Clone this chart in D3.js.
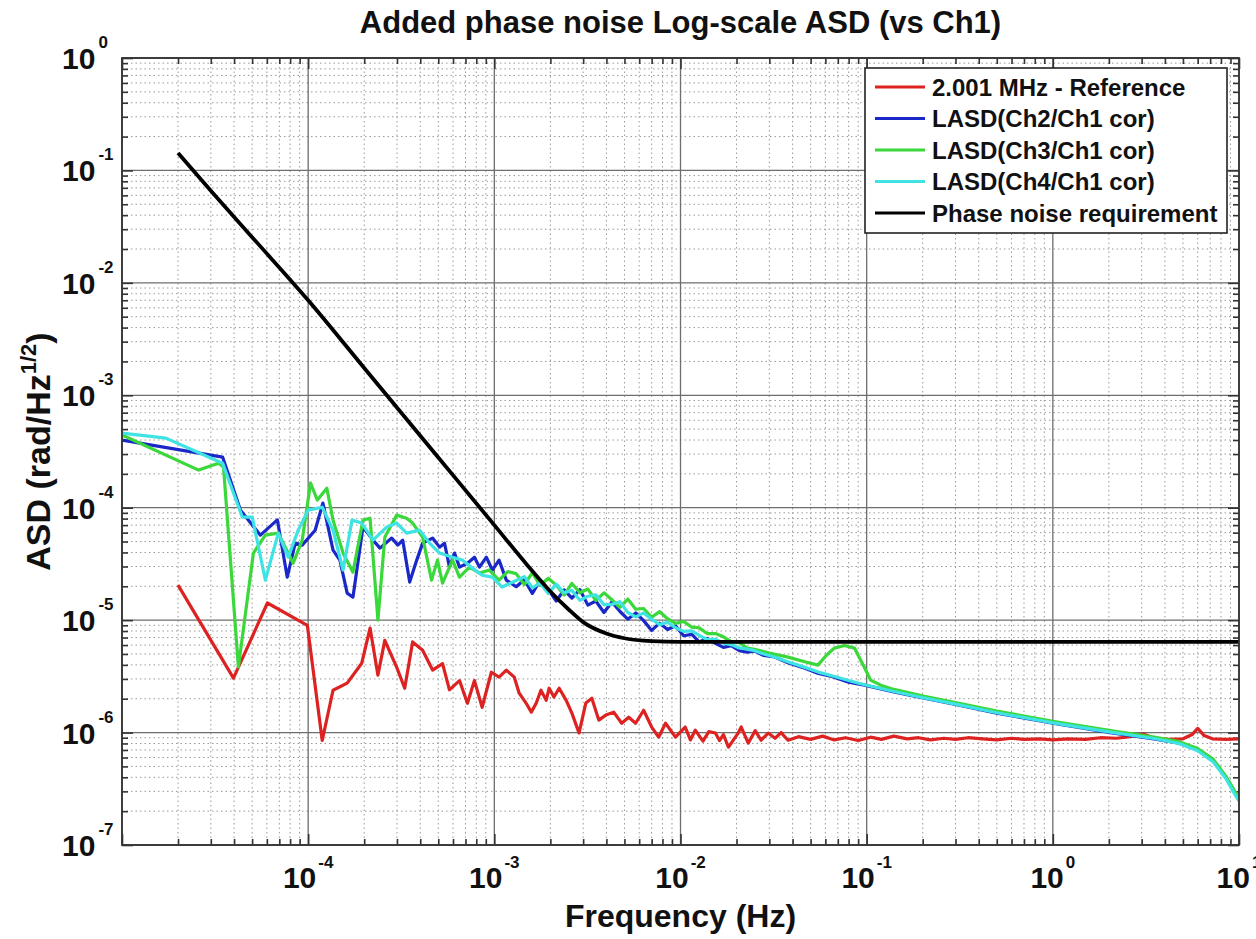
<!DOCTYPE html>
<html>
<head>
<meta charset="utf-8">
<script src="https://cdn.jsdelivr.net/npm/d3@7"></script>
<style>
  body { margin: 0; background: #fff; }
  svg { font-family: "Liberation Sans", Arial, Helvetica, sans-serif; font-weight: bold; }
</style>
</head>
<body>
<svg id="chart"></svg>
<script>
// decades that get a label
const xLabelExps = [-4, -3, -2, -1, 0, 1];
const yLabelExps = [0, -1, -2, -3, -4, -5, -6, -7];

const legendLabels = [
  "2.001 MHz - Reference",
  "LASD(Ch2/Ch1 cor)",
  "LASD(Ch3/Ch1 cor)",
  "LASD(Ch4/Ch1 cor)",
  "Phase noise requirement"
];

// red: reference channel [freq, asd]
const refData = [
  [2e-5,2.05e-5],[3.97e-5,3.05e-6],[6.04e-5,1.42e-5],[9.9e-5,9.0e-6],[1.19e-4,8.5e-7],
  [1.36e-4,2.38e-6],[1.62e-4,2.75e-6],[1.94e-4,4.14e-6],[2.15e-4,8.5e-6],[2.37e-4,3.24e-6],
  [2.58e-4,6.6e-6],[2.99e-4,3.8e-6],[3.3e-4,2.48e-6],[3.64e-4,6.4e-6],[4.12e-4,5.4e-6],
  [4.66e-4,3.6e-6],[5.27e-4,4.1e-6],[5.74e-4,2.4e-6],[6.5e-4,2.9e-6],[7.17e-4,1.82e-6],
  [7.82e-4,2.9e-6],[8.6e-4,1.68e-6],[9.64e-4,3.44e-6],[1.06e-3,3.11e-6],[1.16e-3,3.59e-6],
  [1.28e-3,3.11e-6],[1.36e-3,2.24e-6],[1.48e-3,1.83e-6],[1.58e-3,1.52e-6],[1.68e-3,1.83e-6],
  [1.78e-3,2.38e-6],[1.9e-3,1.94e-6],[1.97e-3,2.48e-6],[2.09e-3,2.07e-6],[2.23e-3,2.48e-6],
  [2.43e-3,1.94e-6],[2.61e-3,1.49e-6],[2.85e-3,9.9e-7],[3.1e-3,1.83e-6],[3.34e-3,2.02e-6],
  [3.64e-3,1.29e-6],[3.97e-3,1.43e-6],[4.38e-3,1.52e-6],[4.83e-3,1.21e-6],[5.27e-3,1.37e-6],
  [5.74e-3,1.21e-6],[6.34e-3,1.58e-6],[7.0e-3,1.12e-6],[7.63e-3,9.1e-7],[8.31e-3,1.21e-6],
  [9.4e-3,9.1e-7],[1.06e-2,1.12e-6],[1.13e-2,8.6e-7],[1.2e-2,1.05e-6],[1.32e-2,8.4e-7],
  [1.42e-2,1.02e-6],[1.54e-2,9.9e-7],[1.62e-2,8.5e-7],[1.7e-2,9.6e-7],[1.81e-2,7.41e-7],
  [2.04e-2,9.9e-7],[2.12e-2,1.12e-6],[2.31e-2,8.05e-7],[2.52e-2,1.04e-6],[2.71e-2,8.55e-7],
  [2.96e-2,9.9e-7],[3.22e-2,8.9e-7],[3.47e-2,1.0e-6],[3.78e-2,8.55e-7],[4.3e-2,9.2e-7],
  [5e-2,8.7e-7],[5.8e-2,9.3e-7],[6.7e-2,8.6e-7],[7.7e-2,9.0e-7],[9e-2,8.5e-7],
  [0.105,9.1e-7],[0.12,8.7e-7],[0.14,9.3e-7],[0.165,8.8e-7],[0.19,9.0e-7],
  [0.22,8.6e-7],[0.26,8.9e-7],[0.3,8.7e-7],[0.35,9.0e-7],[0.42,8.8e-7],
  [0.5,8.6e-7],[0.6,8.9e-7],[0.7,8.7e-7],[0.85,8.8e-7],[1.0,8.6e-7],
  [1.2,8.8e-7],[1.5,8.7e-7],[1.8,9.0e-7],[2.2,8.9e-7],[2.6,9.2e-7],
  [3.07,9.7e-7],[3.5,8.9e-7],[4.2,8.7e-7],[5.0,8.8e-7],[5.6,9.6e-7],
  [6.0,1.09e-6],[6.5,9.4e-7],[7.2,8.8e-7],[8.5,8.7e-7],[10,8.8e-7]
];

// low-frequency part of each LASD curve
const ch2Low = [
  [1e-5,4.0e-4],[3.47e-5,2.82e-4],[4.33e-5,9.5e-5],[5.54e-5,5.7e-5],[6.83e-5,7.8e-5],
  [7.72e-5,2.41e-5],[8.52e-5,4.84e-5],[9.29e-5,4.65e-5],[1.09e-4,6.3e-5],[1.2e-4,1.1e-4],
  [1.36e-4,4.2e-5],[1.48e-4,3.42e-5],[1.62e-4,1.74e-5],[1.74e-4,1.6e-5],[1.97e-4,6.72e-5],
  [2.23e-4,5.15e-5],[2.43e-4,4.37e-5],[2.81e-4,5.37e-5],[3.03e-4,4.65e-5],[3.22e-4,5.15e-5],
  [3.51e-4,2.18e-5],[3.83e-4,3.42e-5],[4.12e-4,4.84e-5],[4.66e-4,5.37e-5],[5.08e-4,4.46e-5],
  [5.4e-4,4.84e-5],[5.74e-4,2.96e-5],[6.11e-4,3.95e-5],[6.5e-4,2.96e-5],[7.17e-4,3.21e-5],
  [7.82e-4,3.63e-5],[8.32e-4,2.96e-5],[9.06e-4,3.63e-5],[9.75e-4,2.79e-5],[1.06e-3,3.42e-5],
  [1.16e-3,2.27e-5]
];
const ch3Low = [
  [1e-5,4.43e-4],[2.58e-5,2.16e-4],[3.3e-5,2.49e-4],[3.51e-5,2.3e-4],[4.22e-5,3.82e-6],
  [5.08e-5,3.95e-5],[5.89e-5,5.7e-5],[6.91e-5,5.94e-5],[8.31e-5,3.21e-5],[9.29e-5,5.15e-5],
  [1.03e-4,1.66e-4],[1.12e-4,1.17e-4],[1.26e-4,1.49e-4],[1.36e-4,7.76e-5],[1.54e-4,3.95e-5],
  [1.74e-4,2.67e-5],[1.97e-4,7.76e-5],[2.15e-4,8.07e-5],[2.37e-4,1.0e-5],[2.58e-4,5.47e-5],
  [2.99e-4,8.59e-5],[3.38e-4,8.07e-5],[3.64e-4,7.3e-5],[4.12e-4,5.47e-5],[4.6e-4,2.27e-5],
  [4.95e-4,3.42e-5],[5.27e-4,2.13e-5],[5.96e-4,3.42e-5],[6.5e-4,2.41e-5],[7.35e-4,2.96e-5],
  [8.32e-4,2.62e-5],[9.4e-4,2.79e-5],[1.06e-3,2.27e-5],[1.18e-3,2.7e-5]
];
const ch4Low = [
  [1e-5,4.61e-4],[1.72e-5,4.16e-4],[3.47e-5,2.49e-4],[4.43e-5,8.24e-5],[5.01e-5,8.24e-5],
  [5.89e-5,2.27e-5],[6.91e-5,5.94e-5],[7.81e-5,3.63e-5],[8.84e-5,6.32e-5],[1.0e-4,9.52e-5],
  [1.19e-4,1.01e-4],[1.36e-4,6.32e-5],[1.54e-4,2.79e-5],[1.72e-4,7.76e-5],[1.94e-4,7.3e-5],
  [2.23e-4,5.15e-5],[2.64e-4,6.72e-5],[2.99e-4,7.3e-5],[3.38e-4,5.94e-5],[3.97e-4,6.32e-5],
  [4.49e-4,4.84e-5],[5.08e-4,3.95e-5],[5.96e-4,3.63e-5],[6.74e-4,3.42e-5],[7.63e-4,2.9e-5],
  [8.6e-4,2.51e-5],[9.75e-4,2.41e-5],[1.1e-3,1.97e-5]
];

// shared frequency bins of the noisy middle band
const bandFreq = [
  1.31e-3,1.45e-3,1.6e-3,1.76e-3,1.95e-3,2.15e-3,2.37e-3,2.61e-3,2.88e-3,3.18e-3,
  3.51e-3,3.88e-3,4.28e-3,4.72e-3,5.21e-3,5.75e-3,6.34e-3,7.0e-3,7.72e-3,8.52e-3,
  9.4e-3,1.04e-2,1.15e-2,1.26e-2,1.39e-2,1.54e-2,1.7e-2,1.87e-2,2.07e-2,2.28e-2
];
const ch2Band = [
  1.98e-5,2.29e-5,1.73e-5,2.24e-5,1.87e-5,1.48e-5,1.86e-5,1.57e-5,1.87e-5,1.36e-5,
  1.48e-5,1.17e-5,1.45e-5,1.20e-5,1.02e-5,1.16e-5,9.9e-6,8.1e-6,9.4e-6,8.25e-6,
  8.91e-6,7.27e-6,7.46e-6,6.4e-6,6.88e-6,6.21e-6,5.72e-6,5.94e-6,5.36e-6,5.19e-6
];
const ch3Band = [
  2.59e-5,2.07e-5,2.64e-5,2.04e-5,2.36e-5,2.05e-5,1.67e-5,2.12e-5,1.75e-5,1.89e-5,
  1.50e-5,1.75e-5,1.52e-5,1.30e-5,1.54e-5,1.25e-5,1.27e-5,1.06e-5,1.19e-5,1.03e-5,
  9.36e-6,9.72e-6,8.66e-6,8.53e-6,7.6e-6,7.59e-6,7.11e-6,6.44e-6,6.32e-6,5.64e-6
];
const ch4Band = [
  2.25e-5,2.44e-5,1.94e-5,2.14e-5,1.73e-5,2.09e-5,1.75e-5,1.84e-5,1.50e-5,1.63e-5,
  1.68e-5,1.37e-5,1.38e-5,1.46e-5,1.17e-5,1.07e-5,1.16e-5,1.02e-5,9.12e-6,9.57e-6,
  8.55e-6,7.94e-6,8.02e-6,7.32e-6,6.73e-6,6.76e-6,6.25e-6,6.06e-6,5.66e-6,5.53e-6
];

// high-frequency part
const ch2Tail = [
  [2.5e-2,5.3e-6],[2.8e-2,4.85e-6],[3.2e-2,4.7e-6],[3.8e-2,4.15e-6],[4.66e-2,3.74e-6],
  [5.5e-2,3.35e-6],[6.5e-2,3.15e-6],[8e-2,2.8e-6],[9.75e-2,2.64e-6],[0.14,2.3e-6],
  [0.204,2.02e-6],[0.3,1.78e-6],[0.5,1.49e-6],[1,1.21e-6],[2.12,9.9e-7],
  [3.5,8.8e-7],[4.77,8.05e-7],[6.0,7.0e-7],[7.26,5.6e-7],[8.5,4.0e-7],[9.3,3.1e-7],[10,2.5e-7]
];
const ch3Tail = [
  [2.5e-2,5.5e-6],[3.0e-2,5.1e-6],[3.78e-2,4.69e-6],[4.7e-2,4.25e-6],[5.47e-2,3.98e-6],
  [6.1e-2,4.9e-6],[6.7e-2,5.64e-6],[7.6e-2,5.95e-6],[8.6e-2,5.64e-6],[9.5e-2,4.1e-6],
  [0.105,2.93e-6],[0.119,2.64e-6],[0.14,2.42e-6],[0.204,2.1e-6],[0.3,1.85e-6],
  [0.5,1.55e-6],[1,1.26e-6],[2.12,1.03e-6],[3.5,9.1e-7],[4.77,8.3e-7],
  [6.0,7.2e-7],[7.26,5.8e-7],[8.5,4.1e-7],[9.3,3.2e-7],[10,2.55e-7]
];
const ch4Tail = [
  [2.5e-2,5.35e-6],[2.8e-2,5.0e-6],[3.2e-2,4.7e-6],[3.8e-2,4.25e-6],[4.66e-2,3.8e-6],
  [5.5e-2,3.45e-6],[6.5e-2,3.2e-6],[8e-2,2.9e-6],[9.75e-2,2.66e-6],[0.14,2.32e-6],
  [0.204,2.03e-6],[0.3,1.79e-6],[0.5,1.5e-6],[1,1.22e-6],[2.12,1.0e-6],
  [3.5,8.85e-7],[4.77,8.0e-7],[6.0,6.9e-7],[7.26,5.5e-7],[8.5,3.9e-7],[9.3,3.0e-7],[10,2.45e-7]
];

// black requirement curve
const reqFreq   = [2e-5, 3e-5, 5e-5, 1e-4, 2e-4, 5e-4, 1e-3, 1.5e-3, 2e-3, 2.5e-3, 3e-3, 4e-3, 5e-3, 7e-3, 1e-2, 10];
const reqValues = [0.143, 0.066, 0.0255, 7.0e-3, 1.75e-3, 2.8e-4, 7.0e-5, 3.1e-5, 1.8e-5, 1.25e-5, 9.6e-6, 7.6e-6, 6.9e-6, 6.5e-6, 6.4e-6, 6.4e-6];

const width = 1256;
const height = 939;
const margin = { top: 58, right: 17, bottom: 94, left: 122 };
const plotW = width - margin.left - margin.right;
const plotH = height - margin.top - margin.bottom;

const svg = d3.select('#chart')
  .attr('width', width)
  .attr('height', height);

const x = d3.scaleLog().domain([1e-5, 10]).range([margin.left, margin.left + plotW]);
const y = d3.scaleLog().domain([1e-7, 1]).range([margin.top + plotH, margin.top]);

const isDecade = d => Math.abs(Math.log10(d) - Math.round(Math.log10(d))) < 1e-9;
const xTicks = x.ticks();
const yTicks = y.ticks();

svg.append('rect')
  .attr('x', margin.left).attr('y', margin.top)
  .attr('width', plotW).attr('height', plotH)
  .attr('fill', '#fff');

// grid
const grid = svg.append('g');
grid.selectAll('.vminor')
  .data(xTicks.filter(d => !isDecade(d)))
  .join('line')
  .attr('x1', d => x(d)).attr('x2', d => x(d))
  .attr('y1', margin.top).attr('y2', margin.top + plotH)
  .attr('stroke', '#9a9a9a').attr('stroke-width', 1).attr('stroke-dasharray', '1.5,3');
grid.selectAll('.hminor')
  .data(yTicks.filter(d => !isDecade(d)))
  .join('line')
  .attr('y1', d => y(d)).attr('y2', d => y(d))
  .attr('x1', margin.left).attr('x2', margin.left + plotW)
  .attr('stroke', '#9a9a9a').attr('stroke-width', 1).attr('stroke-dasharray', '1.5,3');
grid.selectAll('.vmajor')
  .data(xTicks.filter(isDecade))
  .join('line')
  .attr('x1', d => x(d)).attr('x2', d => x(d))
  .attr('y1', margin.top).attr('y2', margin.top + plotH)
  .attr('stroke', '#6e6e6e').attr('stroke-width', 1.3);
grid.selectAll('.hmajor')
  .data(yTicks.filter(isDecade))
  .join('line')
  .attr('y1', d => y(d)).attr('y2', d => y(d))
  .attr('x1', margin.left).attr('x2', margin.left + plotW)
  .attr('stroke', '#6e6e6e').attr('stroke-width', 1.3);

// inward ticks on all four sides
function styleTicks(g, attr, sign) {
  g.select('.domain').remove();
  g.selectAll('.tick line')
    .attr(attr, d => sign * (isDecade(d) ? 11 : 6))
    .attr('stroke', '#333').attr('stroke-width', 1.6);
}
svg.append('g').attr('transform', `translate(0,${margin.top + plotH})`)
  .call(d3.axisBottom(x).tickValues(xTicks).tickFormat(''))
  .call(g => styleTicks(g, 'y2', -1));
svg.append('g').attr('transform', `translate(0,${margin.top})`)
  .call(d3.axisTop(x).tickValues(xTicks).tickFormat(''))
  .call(g => styleTicks(g, 'y2', 1));
svg.append('g').attr('transform', `translate(${margin.left},0)`)
  .call(d3.axisLeft(y).tickValues(yTicks).tickFormat(''))
  .call(g => styleTicks(g, 'x2', 1));
svg.append('g').attr('transform', `translate(${margin.left + plotW},0)`)
  .call(d3.axisRight(y).tickValues(yTicks).tickFormat(''))
  .call(g => styleTicks(g, 'x2', -1));

// curves
svg.append('defs').append('clipPath').attr('id', 'plotclip')
  .append('rect')
  .attr('x', margin.left).attr('y', margin.top)
  .attr('width', plotW).attr('height', plotH);

const bandPairs = vals => bandFreq.map((f, i) => [f, vals[i]]);
const ch2Data = ch2Low.concat(bandPairs(ch2Band), ch2Tail);
const ch3Data = ch3Low.concat(bandPairs(ch3Band), ch3Tail);
const ch4Data = ch4Low.concat(bandPairs(ch4Band), ch4Tail);
const reqData = reqFreq.map((f, i) => [f, reqValues[i]]);

const colors = ['#dd2222', '#1b28c8', '#3ad83a', '#3fe3e3', '#000000'];
const seriesList = [refData, ch2Data, ch3Data, ch4Data, reqData];

const lineGen = d3.line().x(d => x(d[0])).y(d => y(d[1]));
const smoothGen = d3.line().x(d => x(d[0])).y(d => y(d[1])).curve(d3.curveMonotoneX);

const curves = svg.append('g').attr('clip-path', 'url(#plotclip)');
seriesList.forEach((data, i) => {
  curves.append('path')
    .datum(data)
    .attr('d', i === 4 ? smoothGen : lineGen)
    .attr('fill', 'none')
    .attr('stroke', colors[i])
    .attr('stroke-width', i === 4 ? 3.8 : 3.2)
    .attr('stroke-linejoin', 'round');
});

// box
svg.append('rect')
  .attr('x', margin.left).attr('y', margin.top)
  .attr('width', plotW).attr('height', plotH)
  .attr('fill', 'none').attr('stroke', '#333').attr('stroke-width', 1.8);

// tick labels
svg.append('g').selectAll('text')
  .data(yLabelExps)
  .join('text')
  .attr('x', 62)
  .attr('y', d => y(Math.pow(10, d)) + 11)
  .attr('font-size', 30)
  .attr('fill', '#111')
  .each(function(d) {
    const t = d3.select(this);
    t.append('tspan').text('10');
    t.append('tspan').attr('dx', 3).attr('dy', -21).attr('font-size', 17).text(d);
  });

svg.append('g').selectAll('text')
  .data(xLabelExps)
  .join('text')
  .attr('x', d => x(Math.pow(10, d)))
  .attr('y', 888)
  .attr('text-anchor', 'middle')
  .attr('font-size', 30)
  .attr('fill', '#111')
  .each(function(d) {
    const t = d3.select(this);
    t.append('tspan').text('10');
    t.append('tspan').attr('dx', 2).attr('dy', -20).attr('font-size', 17).text(d);
  });

// titles
svg.append('text')
  .attr('x', margin.left + plotW / 2).attr('y', 33)
  .attr('text-anchor', 'middle').attr('font-size', 31).attr('fill', '#111')
  .text('Added phase noise Log-scale ASD (vs Ch1)');

svg.append('text')
  .attr('x', margin.left + plotW / 2).attr('y', 927)
  .attr('text-anchor', 'middle').attr('font-size', 32).attr('fill', '#111')
  .text('Frequency (Hz)');

const yLab = svg.append('text')
  .attr('transform', `translate(50,${margin.top + plotH / 2}) rotate(-90)`)
  .attr('text-anchor', 'middle').attr('font-size', 34).attr('fill', '#111');
yLab.append('tspan').text('ASD (rad/Hz');
yLab.append('tspan').attr('dy', -14).attr('font-size', 22).text('1/2');
yLab.append('tspan').attr('dy', 14).text(')');

// legend
const legend = svg.append('g');
legend.append('rect')
  .attr('x', 865).attr('y', 68).attr('width', 362).attr('height', 165)
  .attr('fill', '#fff').attr('stroke', '#222').attr('stroke-width', 1.6);
const rows = legend.selectAll('.row')
  .data(legendLabels)
  .join('g')
  .attr('transform', (d, i) => `translate(0,${87 + i * 31.5})`);
rows.append('line')
  .attr('x1', 875).attr('x2', 925)
  .attr('stroke', (d, i) => colors[i]).attr('stroke-width', 3.2);
rows.append('text')
  .attr('x', 932).attr('dy', '0.36em')
  .attr('font-size', 24).attr('fill', '#111')
  .text(d => d);
</script>
</body>
</html>
